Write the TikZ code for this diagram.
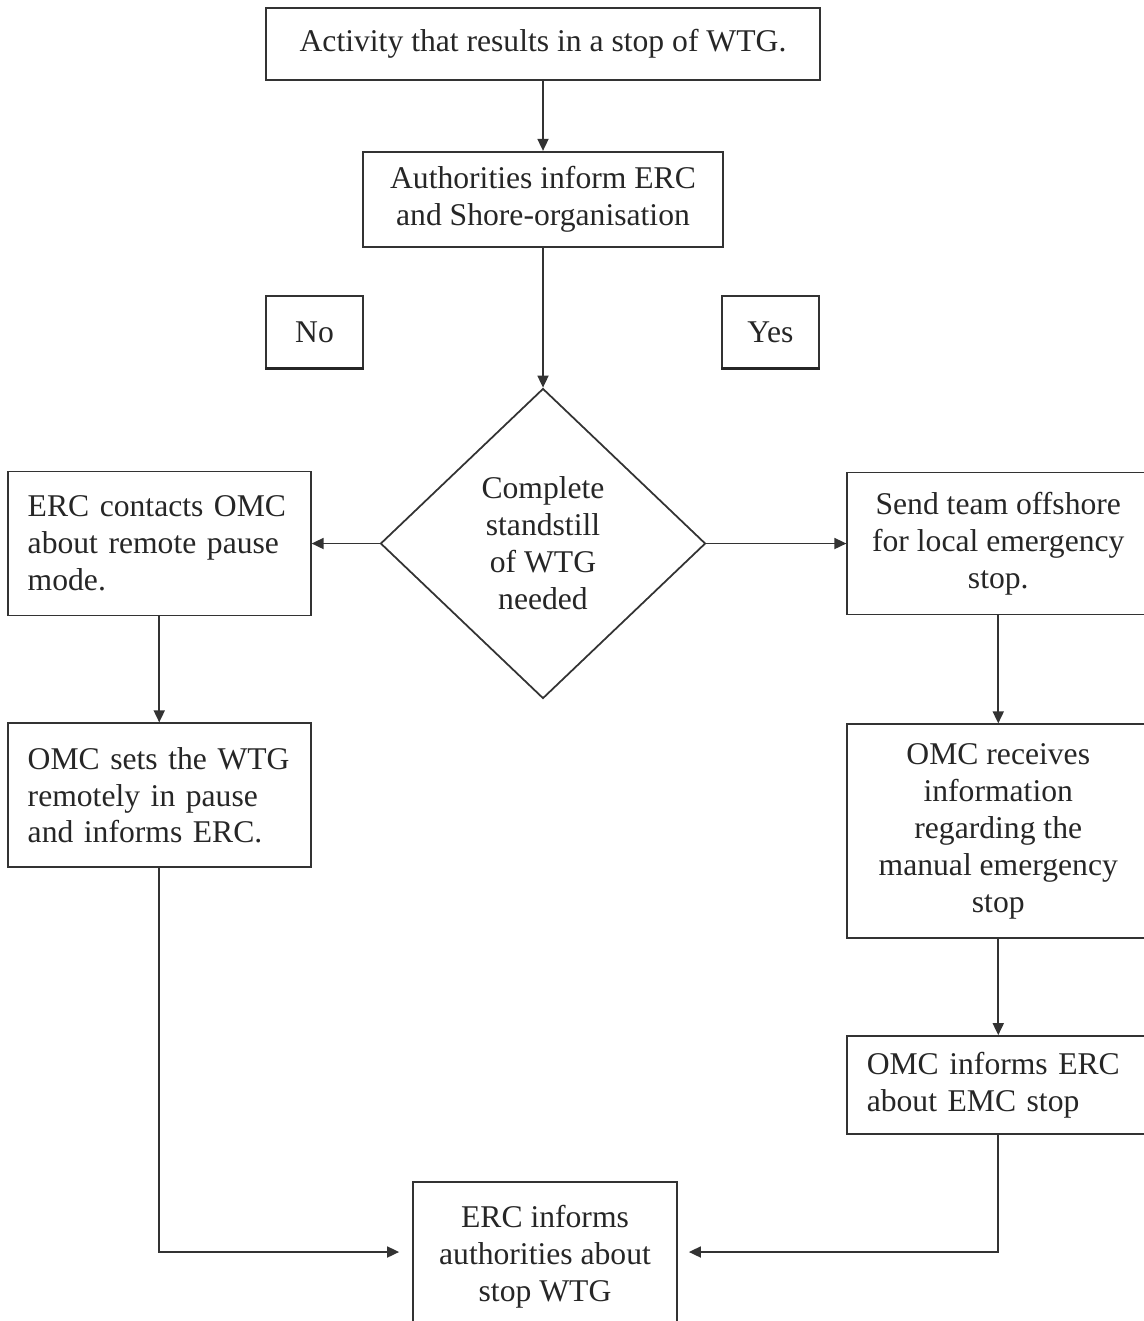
\documentclass[tikz,border=0pt]{standalone}
\usepackage{fontspec}
\setmainfont{Liberation Serif}
\usepackage{tikz}
\usetikzlibrary{arrows.meta,positioning,shapes.geometric}

\begin{document}
\begin{tikzpicture}[
   font=\fontsize{18}{21}\selectfont,
   every node/.style={text=black!85},
   box/.style={draw=black!80,line width=1pt,align=center,inner sep=0pt},
   lbox/.style={draw=black!80,line width=1pt,align=left,inner ysep=0pt,
               inner xsep=4mm,text width=5.26cm,minimum width=6.06cm},
   tag/.style={draw=black!80,line width=0.8pt,minimum width=1.94cm,minimum height=1.44cm},
   choice/.style={diamond,draw=black!80,line width=1pt,align=center,inner sep=0pt,
               minimum width=6.5cm,minimum height=6.2cm},
   arr/.style={-{Triangle[length=2.4mm,width=2.2mm]},line width=1pt,draw=black!80}
  ]
  \useasboundingbox (0,0) rectangle (22.86,-26.42);

  \node[box,minimum width=11.08cm,minimum height=1.44cm] (act) at (10.86,-0.88)
        {Activity that results in a stop of WTG.};
  \node[box,minimum width=7.2cm,minimum height=1.9cm,below=1.4cm of act] (auth)
        {Authorities inform ERC\\and Shore-organisation};
  \node[choice,below=2.8cm of auth] (stand) {Complete\\standstill\\of WTG\\needed};

  % answer tags
  \node[tag] (no)  at (6.29,-6.64)  {No};
  \node[tag] (yes) at (15.41,-6.64) {Yes};
  \draw[line width=2pt,black!85] (no.south west) -- (no.south east);
  \draw[line width=2pt,black!85] (yes.south west) -- (yes.south east);

  % no branch
  \node[lbox,minimum height=2.88cm,left=1.36cm of stand] (pause)
        {ERC contacts OMC\\about remote pause\\mode.};
  \node[lbox,minimum height=2.88cm,below=2.12cm of pause] (remote)
        {OMC sets the WTG\\remotely in pause\\and informs ERC.};

  % yes branch
  \node[box,minimum width=6.04cm,minimum height=2.84cm,right=2.8cm of stand] (team)
        {Send team offshore\\for local emergency\\stop.};
  \node[box,minimum width=6.04cm,minimum height=4.28cm,below=2.16cm of team] (recv)
        {OMC receives\\information\\regarding the\\manual emergency\\stop};
  \node[lbox,minimum height=1.96cm,below=1.92cm of recv] (emc)
        {OMC informs ERC\\about EMC stop};

  \node[box,minimum width=5.28cm,minimum height=3cm] (fin) at (10.9,-25.14)
        {ERC informs\\authorities about\\stop WTG};

  \draw[arr] (act) -- (auth);
  \draw[arr] (auth) -- (stand);
  \draw[arr] (stand.west) -- (pause.east);
  \draw[arr] (stand.east) -- (team.west);
  \draw[arr] (pause) -- (remote);
  \draw[arr] (team) -- (recv);
  \draw[arr] (recv) -- (emc);
  \draw[arr,shorten >=2.6mm] (remote.south) |- ([yshift=1mm]fin.west);
  \draw[arr,shorten >=2.2mm] (emc.south) |- ([yshift=1mm]fin.east);
\end{tikzpicture}
\end{document}
